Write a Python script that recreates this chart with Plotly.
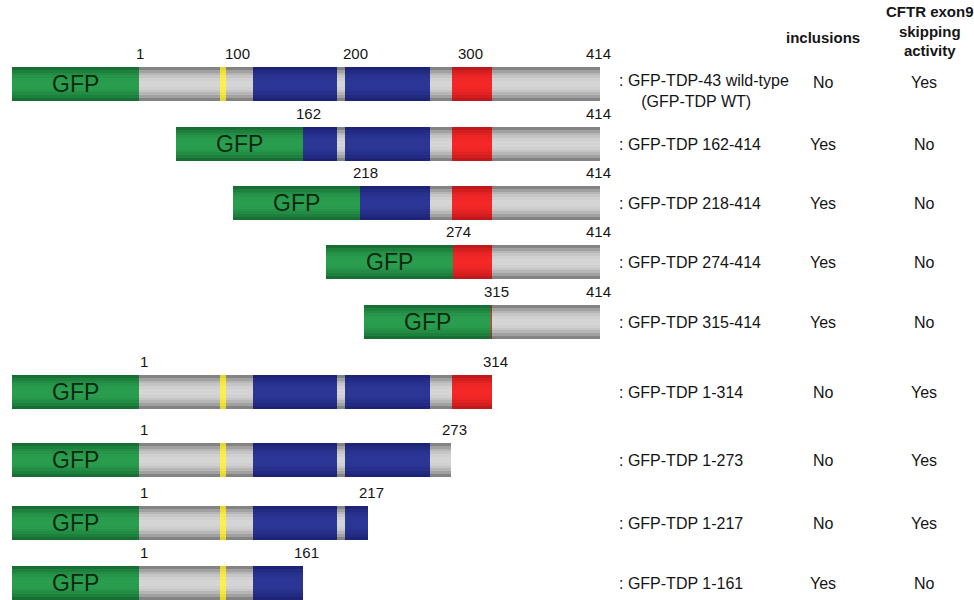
import math
import plotly.graph_objects as go

# ---------------- data ----------------
construct_names = [
    ": GFP-TDP-43 wild-type<br>     (GFP-TDP WT)",
    ": GFP-TDP 162-414",
    ": GFP-TDP 218-414",
    ": GFP-TDP 274-414",
    ": GFP-TDP 315-414",
    ": GFP-TDP 1-314",
    ": GFP-TDP 1-273",
    ": GFP-TDP 1-217",
    ": GFP-TDP 1-161",
]
start_residue = [1, 162, 218, 274, 315, 1, 1, 1, 1]
end_residue = [414, 414, 414, 414, 414, 314, 273, 217, 161]
inclusions = ["No", "Yes", "Yes", "Yes", "Yes", "No", "No", "No", "Yes"]
cftr_skipping = ["Yes", "No", "No", "No", "No", "Yes", "Yes", "Yes", "No"]

# schematic (drawn) map positions of the construct boundaries
start_map = [139, 303, 360, 453, 491, 139, 139, 139, 139]
end_map = [600, 600, 600, 600, 600, 492, 451, 368, 303]
gfp_map_length = 127

# TDP-43 domain map in schematic units (type, from, to)
domain_type = ["gray", "nls", "gray", "rrm", "gray", "rrm", "gray", "gly", "gray"]
domain_from = [139, 220, 226, 253, 337, 345, 430, 452, 492]
domain_to = [220, 226, 253, 337, 345, 430, 452, 492, 600]

# wild-type position ticks
wt_ticks = [1, 100, 200, 300, 414]
wt_tick_map = [140, 237, 355, 470, 598]

headers = ["inclusions", "CFTR exon9<br>skipping<br>activity"]

# ---------------- layout constants ----------------
row_y = [84, 144, 203, 262, 322, 392, 460, 523, 583]
bar_h = 34
n_strips = 12

colors = {
    "gfp": ((18, 96, 44), (42, 158, 78)),
    "gray": ((105, 105, 105), (214, 214, 214)),
    "nls": ((225, 205, 30), (250, 240, 80)),
    "rrm": ((24, 30, 110), (44, 54, 150)),
    "gly": ((175, 20, 24), (245, 40, 40)),
}


def mix(c0, c1, w):
    return "rgb(%d,%d,%d)" % tuple(round(a + (b - a) * w) for a, b in zip(c0, c1))


# collect segments per type
segs = {k: [] for k in colors}
for i in range(len(row_y)):
    s, e = start_map[i], end_map[i]
    segs["gfp"].append((i, s - gfp_map_length, s))
    for t, a, b in zip(domain_type, domain_from, domain_to):
        a2, b2 = max(a, s), min(b, e)
        if b2 > a2:
            segs[t].append((i, a2, b2))

fig = go.Figure()
strip_h = bar_h / n_strips
for k in range(n_strips):
    t = (k + 0.5) / n_strips
    w = math.sin(math.pi * t) ** 0.7
    off = -bar_h / 2 + (k + 0.5) * strip_h
    for typ, lst in segs.items():
        if not lst:
            continue
        col = mix(colors[typ][0], colors[typ][1], w)
        fig.add_trace(go.Bar(
            orientation="h",
            y=[row_y[i] + off for i, a, b in lst],
            x=[b - a for i, a, b in lst],
            base=[a for i, a, b in lst],
            width=strip_h * 1.04,
            marker=dict(color=col, line=dict(width=0)),
            hoverinfo="skip",
            showlegend=False,
        ))

ann = []
FAM = "Liberation Sans, Arial, sans-serif"
font_txt = dict(family=FAM, size=16, color="#151515")
font_gfp = dict(family=FAM, size=23, color="#0c2a12")
font_num = dict(family=FAM, size=15, color="#151515")

for i in range(len(row_y)):
    s, e = start_map[i], end_map[i]
    ann.append(dict(x=s - gfp_map_length / 2, y=row_y[i], text="GFP", font=font_gfp,
                    showarrow=False, xanchor="center", yanchor="middle"))
    ann.append(dict(x=617, y=row_y[i] + (7 if i == 0 else 0), text=construct_names[i],
                    font=font_txt, showarrow=False, xanchor="left", yanchor="middle",
                    align="left"))
    ann.append(dict(x=823, y=row_y[i] - (2 if i == 0 else 0), text=inclusions[i], font=font_txt,
                    showarrow=False, xanchor="center", yanchor="middle"))
    ann.append(dict(x=924, y=row_y[i] - (2 if i == 0 else 0), text=cftr_skipping[i], font=font_txt,
                    showarrow=False, xanchor="center", yanchor="middle"))
    ly = row_y[i] - bar_h / 2 - 14
    if i == 0:
        for v, xm in zip(wt_ticks, wt_tick_map):
            ann.append(dict(x=xm, y=ly, text=str(v), font=font_num, showarrow=False,
                            xanchor="center", yanchor="middle"))
    else:
        ann.append(dict(x=s + 5, y=ly, text=str(start_residue[i]), font=font_num,
                        showarrow=False, xanchor="center", yanchor="middle"))
        ex = e - 2 if end_residue[i] == 414 else e + 3
        ann.append(dict(x=ex, y=ly, text=str(end_residue[i]), font=font_num,
                        showarrow=False, xanchor="center", yanchor="middle"))

font_hdr = dict(family=FAM, size=15, color="#151515")
ann.append(dict(x=823, y=37, text="<b>%s</b>" % headers[0], font=font_hdr,
                showarrow=False, xanchor="center", yanchor="middle"))
ann.append(dict(x=930, y=31, text="<b>%s</b>" % headers[1], font=font_hdr,
                showarrow=False, xanchor="center", yanchor="middle", align="center"))

fig.update_layout(
    width=974, height=600,
    margin=dict(l=0, r=0, t=0, b=0),
    paper_bgcolor="white", plot_bgcolor="white",
    barmode="overlay", bargap=0,
    xaxis=dict(range=[0, 974], visible=False, fixedrange=True),
    yaxis=dict(range=[600, 0], visible=False, fixedrange=True),
    annotations=ann,
    showlegend=False,
)
fig.write_html("out.html", config={"displayModeBar": False},
               post_script="document.body.style.margin='0';document.body.style.overflow='hidden';")
